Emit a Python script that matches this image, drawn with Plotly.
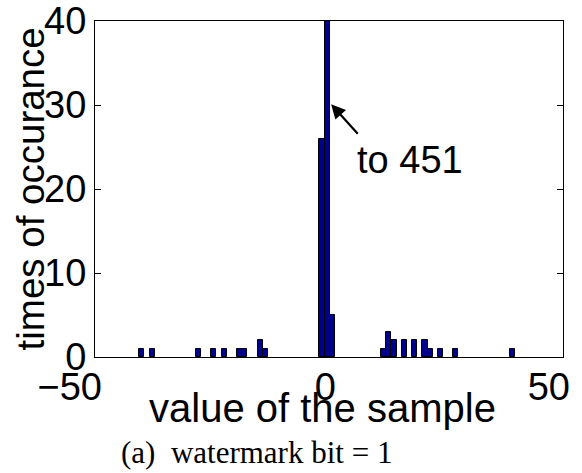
import plotly.graph_objects as go

# Histogram bin centres (value of the sample) and counts
bin_centers = [-40.0, -37.8, -27.9, -24.6, -22.4, -19.1, -18.0, -14.7, -13.6,
               -1.5, -0.4, 0.7,
               11.7, 12.8, 13.9, 16.1, 18.3, 20.5, 21.6, 23.8, 27.1, 39.2]
counts = [1, 1, 1, 1, 1, 1, 1, 2, 1,
          26, 451, 5,
          1, 3, 2, 2, 2, 2, 1, 1, 1, 1]
bin_width = 1.1

x_ticks = [-50, 0, 50]
y_ticks = [0, 10, 20, 30, 40]

SANS = "Liberation Sans, Arial, Helvetica, sans-serif"
SERIF = "Liberation Serif, Times New Roman, serif"

fig = go.Figure()
fig.add_trace(go.Bar(
    x=bin_centers, y=counts, width=bin_width,
    marker=dict(color="#00008F", line=dict(color="black", width=1)),
    showlegend=False,
))

axis_common = dict(
    showline=True, linecolor="black", linewidth=1, mirror="ticks",
    ticks="inside", ticklen=6, tickcolor="black", showgrid=False,
    zeroline=False, automargin=False,
    tickfont=dict(family=SANS, size=38, color="black"),
)

fig.update_xaxes(range=[-50, 50], tickvals=x_ticks,
                 ticklabelposition="outside left", ticklabelshift=8,
                 ticklabelstandoff=-4, **axis_common)
fig.update_yaxes(range=[0, 40], tickvals=y_ticks, **axis_common)

fig.update_layout(
    width=582, height=473,
    margin=dict(l=95, r=19, t=21, b=116),
    plot_bgcolor="white", paper_bgcolor="white",
    bargap=0,
)

# axis titles
fig.add_annotation(text="value of the sample", xref="paper", yref="paper",
                   x=0.487, y=-0.152, showarrow=False, yanchor="middle",
                   font=dict(family=SANS, size=40, color="black"))
fig.add_annotation(text="times of occurance", xref="paper", yref="paper",
                   x=-0.138, y=0.5, showarrow=False, textangle=-90,
                   xanchor="center", yanchor="middle",
                   font=dict(family=SANS, size=38.5, color="black"))

# arrow pointing at the clipped tall bar
fig.add_annotation(x=0.45, y=30.1, xref="x", yref="y", text="",
                   showarrow=True, arrowhead=2, arrowsize=1.3, arrowwidth=2.2,
                   arrowcolor="black", ax=28, ay=31, axref="pixel", ayref="pixel")
fig.add_annotation(text="to 451", x=17.3, y=23.5, xref="x", yref="y",
                   showarrow=False, yanchor="middle",
                   font=dict(family=SANS, size=38, color="black"))

# caption
fig.add_annotation(text="(a)  watermark bit = 1", xref="paper", yref="paper",
                   x=0.345, y=-0.285, showarrow=False, xanchor="center",
                   yanchor="middle",
                   font=dict(family=SERIF, size=31, color="black"))

fig.write_html("out.html")
